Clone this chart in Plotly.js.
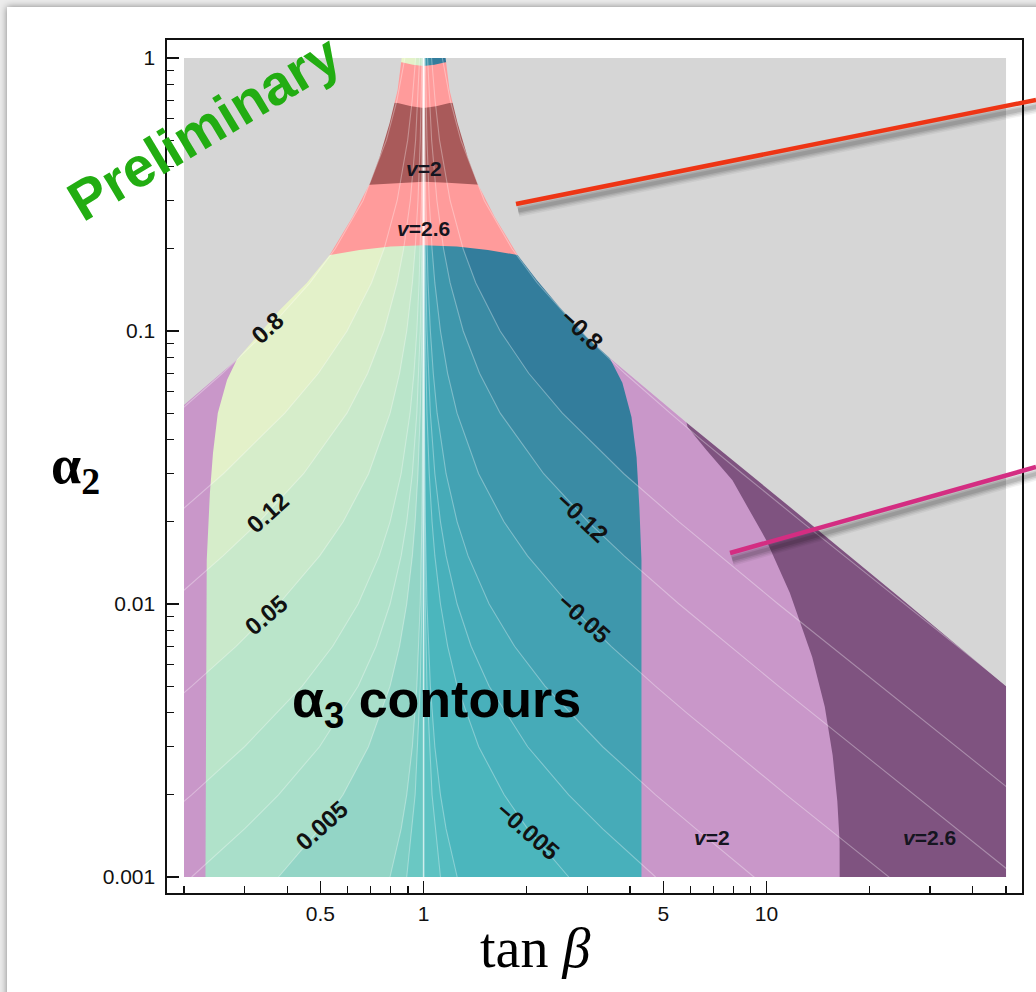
<!DOCTYPE html>
<html>
<head>
<meta charset="utf-8">
<script src="https://cdn.plot.ly/plotly-3.0.1.min.js"></script>
<style>
  html, body { margin: 0; padding: 0; background: #ececec; overflow: hidden; }
  #card { position: absolute; left: 7px; top: 7px; width: 1100px; height: 1100px; background: #fff; box-shadow: 0 0 7px rgba(0,0,0,0.45); }
  #chart { position: absolute; left: 0; top: 0; width: 1036px; height: 992px; }
</style>
</head>
<body>
<div id="card"></div>
<div id="chart"></div>
<script>
// ---- plot window: tan(beta) horizontally, alpha2 vertically (both log) ----
const tanBetaMin = 0.2, tanBetaMax = 50;
const alpha2Min = 0.001, alpha2Max = 1;

// ---- alpha3 contour lines, positive levels (tan beta < 1) ----
const posLevels = [0.0005, 0.001, 0.005, 0.01, 0.02, 0.05, 0.12, 0.25, 0.8];
const p0005A2 = [0.001, 0.002, 0.005, 0.01, 0.05, 1.0];
const p0005Tb = [0.8928, 0.9448, 0.9776, 0.9887, 0.9955, 0.9999];
const p001A2 = [0.001, 0.0015, 0.002, 0.003, 0.005, 0.01, 0.02, 0.05, 0.1, 1.0];
const p001Tb = [0.798, 0.860, 0.8928, 0.9272, 0.9556, 0.9776, 0.9887, 0.9955, 0.9977, 0.9998];
const p005A2 = [0.001, 0.0015, 0.002, 0.003, 0.005, 0.007, 0.01, 0.015, 0.02, 0.03, 0.05, 0.1, 0.2, 1.0];
const p005Tb = [0.3773, 0.497, 0.582, 0.6905, 0.7983, 0.8507, 0.8928, 0.9272, 0.9448, 0.9628, 0.9776, 0.9887, 0.9943, 0.9989];
const p01A2 = [0.001, 0.0015, 0.002, 0.003, 0.005, 0.007, 0.01, 0.015, 0.02, 0.03, 0.05, 0.1, 0.2, 0.5, 1.0];
const p01Tb = [0.2105, 0.3003, 0.3773, 0.497, 0.644, 0.7268, 0.7983, 0.860, 0.8928, 0.9272, 0.9556, 0.9776, 0.9887, 0.9955, 0.9977];
const p02A2 = [0.0015, 0.002, 0.003, 0.005, 0.007, 0.01, 0.015, 0.02, 0.03, 0.05, 0.07, 0.1, 0.15, 0.2, 0.3, 0.5, 1.0];
const p02Tb = [0.1605, 0.2105, 0.3003, 0.4424, 0.543, 0.644, 0.742, 0.7983, 0.860, 0.9132, 0.9372, 0.9556, 0.9702, 0.9776, 0.985, 0.991, 0.9955];
const p05A2 = [0.004, 0.005, 0.007, 0.01, 0.015, 0.02, 0.03, 0.05, 0.07, 0.1, 0.15, 0.2, 0.3, 0.5, 1.0];
const p05Tb = [0.171, 0.2107, 0.2838, 0.378, 0.4976, 0.5826, 0.691, 0.7986, 0.851, 0.893, 0.9273, 0.9449, 0.9629, 0.9776, 0.9887];
const p12A2 = [0.01, 0.015, 0.02, 0.03, 0.05, 0.07, 0.1, 0.15, 0.2, 0.3, 0.5, 0.7, 1.0];
const p12Tb = [0.180, 0.260, 0.331, 0.4465, 0.5976, 0.687, 0.7665, 0.8366, 0.8745, 0.9144, 0.9476, 0.9623, 0.9735];
const p25A2 = [0.02, 0.03, 0.05, 0.07, 0.1, 0.15, 0.2, 0.3, 0.5, 0.7, 1.0];
const p25Tb = [0.180, 0.2605, 0.3937, 0.4935, 0.598, 0.7044, 0.767, 0.837, 0.8985, 0.9263, 0.9478];
const p80A2 = [0.04, 0.05, 0.07, 0.1, 0.15, 0.2, 0.3, 0.5, 0.7, 1.0];
const p80Tb = [0.155, 0.191, 0.259, 0.349, 0.466, 0.552, 0.665, 0.779, 0.836, 0.882];

// ---- alpha3 contour lines, negative levels (tan beta > 1) ----
const negLevels = [-0.0005, -0.001, -0.005, -0.01, -0.02, -0.05, -0.12, -0.25, -0.8];
const n0005A2 = [0.001, 0.002, 0.005, 0.01, 0.05, 1.0];
const n0005Tb = [1.120, 1.0584, 1.0229, 1.0114, 1.0045, 1.0001];
const n001A2 = [0.001, 0.0015, 0.002, 0.003, 0.005, 0.01, 0.02, 0.05, 0.1, 1.0];
const n001Tb = [1.253, 1.163, 1.120, 1.0785, 1.0465, 1.0229, 1.0114, 1.0045, 1.0023, 1.0002];
const n005A2 = [0.001, 0.0015, 0.002, 0.003, 0.005, 0.007, 0.01, 0.015, 0.02, 0.03, 0.05, 0.1, 0.2, 1.0];
const n005Tb = [2.650, 2.012, 1.718, 1.448, 1.2527, 1.1755, 1.120, 1.0785, 1.0584, 1.0386, 1.0229, 1.0114, 1.0057, 1.0011];
const n01A2 = [0.001, 0.0015, 0.002, 0.003, 0.005, 0.007, 0.01, 0.015, 0.02, 0.03, 0.05, 0.1, 0.2, 0.5, 1.0];
const n01Tb = [4.751, 3.330, 2.650, 2.012, 1.553, 1.376, 1.2527, 1.163, 1.120, 1.0785, 1.0465, 1.0229, 1.0114, 1.0045, 1.0023];
const n02A2 = [0.0005, 0.001, 0.0015, 0.002, 0.003, 0.005, 0.007, 0.01, 0.015, 0.02, 0.03, 0.05, 0.07, 0.1, 0.15, 0.2, 0.3, 0.5, 1.0];
const n02Tb = [18.24, 9.20, 6.23, 4.751, 3.330, 2.260, 1.842, 1.553, 1.348, 1.2527, 1.163, 1.095, 1.067, 1.0465, 1.0307, 1.0229, 1.0152, 1.0091, 1.0045];
const n05A2 = [0.0005, 0.001, 0.002, 0.004, 0.005, 0.007, 0.01, 0.015, 0.02, 0.03, 0.05, 0.07, 0.1, 0.15, 0.2, 0.3, 0.5, 1.0];
const n05Tb = [45.38, 22.72, 11.43, 5.841, 4.746, 3.524, 2.646, 2.010, 1.716, 1.447, 1.252, 1.175, 1.120, 1.0784, 1.0583, 1.0385, 1.0229, 1.0114];
const n12A2 = [0.001, 0.002, 0.005, 0.01, 0.015, 0.02, 0.03, 0.05, 0.07, 0.1, 0.15, 0.2, 0.3, 0.5, 0.7, 1.0];
const n12Tb = [53.8, 26.94, 10.85, 5.56, 3.846, 3.021, 2.240, 1.673, 1.456, 1.305, 1.195, 1.1435, 1.0936, 1.0553, 1.0392, 1.0272];
const n25A2 = [0.002, 0.005, 0.01, 0.02, 0.03, 0.05, 0.07, 0.1, 0.15, 0.2, 0.3, 0.5, 0.7, 1.0];
const n25Tb = [53.67, 21.51, 10.82, 5.56, 3.839, 2.540, 2.026, 1.672, 1.420, 1.304, 1.195, 1.113, 1.080, 1.055];
const n80A2 = [0.005, 0.01, 0.02, 0.03, 0.04, 0.05, 0.07, 0.1, 0.15, 0.2, 0.3, 0.5, 0.7, 1.0];
const n80Tb = [50.42, 25.24, 12.68, 8.518, 6.45, 5.24, 3.86, 2.865, 2.146, 1.812, 1.504, 1.284, 1.196, 1.134];

// alpha3 = 0 contour
const zeroLineTb = [1, 1];
const zeroLineA2 = [0.0001, 5];

// band colours: base band next to tan(beta)=1, then the band beyond each level
const posBaseColor = '#6ac8c3';
const posBandColors = ['#7dcec4', '#93d5c6', '#a9dfca', '#b0e2ca', '#bae5ca', '#c9e9cb', '#d6edca', '#e3f1c9', '#e9f4c8'];
const negBaseColor = '#5dc2c2';
const negBandColors = ['#55bdc0', '#4bb6bd', '#48b0bb', '#46abb8', '#43a2b3', '#3e97ac', '#3a8ba4', '#337d9c', '#2f7597'];

// ---- v = 2 / v = 2.6 regions ----
// low tan(beta) strip (v=2), edge against the contour region
const stripEdgeTb = [0.231, 0.231, 0.233, 0.238, 0.243, 0.251, 0.267, 0.285];
const stripEdgeA2 = [0.0001, 0.001, 0.0145, 0.0255, 0.0357, 0.0501, 0.0662, 0.0784];
// high tan(beta): v=2 edge against the contour region
const rightV2EdgeTb = [4.32, 4.32, 4.26, 4.18, 4.04, 3.80, 3.49];
const rightV2EdgeA2 = [0.0001, 0.0145, 0.0226, 0.0345, 0.0484, 0.0646, 0.0796];
// high tan(beta): v=2.6 edge
const rightV26EdgeTb = [16.4, 16.4, 16.35, 16.1, 15.6, 14.8, 13.6, 11.7, 10.0, 7.96, 6.7, 5.89, 5.0];
const rightV26EdgeA2 = [0.0001, 0.001, 0.00135, 0.0019, 0.0028, 0.0042, 0.0064, 0.0110, 0.0171, 0.0284, 0.0365, 0.0445, 0.1];
// upper funnel bands (v=2.6 below and above, v=2 in between)
const funnelLowTb = [0.45, 0.532, 0.65, 0.8, 1.0, 1.25, 1.54, 1.88, 2.25];
const funnelLowA2 = [0.183, 0.190, 0.198, 0.204, 0.206, 0.204, 0.198, 0.190, 0.183];
const funnelTopTb = [2.25, 1.159, 1.075, 1.0, 0.93, 0.863, 0.45];
const funnelTopA2 = [0.965, 0.965, 0.945, 0.935, 0.945, 0.965, 0.965];
const v2BandLowTb = [0.6, 0.697, 0.85, 1.0, 1.176, 1.435, 1.67];
const v2BandLowA2 = [0.340, 0.343, 0.349, 0.352, 0.349, 0.343, 0.340];
const v2BandHighTb = [1.4, 1.19, 1.087, 1.0, 0.92, 0.84, 0.71];
const v2BandHighA2 = [0.69, 0.684, 0.665, 0.656, 0.665, 0.684, 0.69];

// ---- excluded (grey) regions ----
const exclLeftTb = [0.1, 0.2, 0.285, 0.326, 0.380, 0.456, 0.532, 0.621, 0.697, 0.744, 0.796, 0.840, 0.863, 0.875, 0.1];
const exclLeftA2 = [0.0268, 0.0536, 0.0784, 0.0951, 0.119, 0.150, 0.190, 0.262, 0.348, 0.434, 0.578, 0.764, 1.0, 3, 3];
const exclRightTb = [1.147, 1.159, 1.19, 1.256, 1.344, 1.435, 1.61, 1.88, 2.135, 2.49, 2.99, 3.49, 5.89, 12.5, 24.4, 50, 100, 100];
const exclRightA2 = [3, 1.0, 0.764, 0.578, 0.434, 0.348, 0.262, 0.19, 0.154, 0.1225, 0.0951, 0.0796, 0.0458, 0.0212, 0.0106, 0.0050, 0.0025, 3];

// ---- labels ----
const contourLabelText = ['0.8', '0.12', '0.05', '0.005', '\u22120.8', '\u22120.12', '\u22120.05', '\u22120.005'];
const contourLabelTb = [0.351, 0.351, 0.349, 0.504, 2.888, 2.908, 2.947, 2.01];
const contourLabelA2 = [0.1026, 0.0217, 0.00912, 0.00154, 0.1009, 0.0208, 0.00888, 0.00148];
const contourLabelAngle = [-42, -42, -40, -42, 43, 43, 42, 41];
const regionLabelText = ['v=2', 'v=2.6', 'v=2', 'v=2.6'];
const regionLabelTb = [1.0, 1.0, 6.96, 29.9];
const regionLabelA2 = [0.395, 0.238, 0.00139, 0.00139];

const xTickVals = [0.5, 1, 5, 10];
const xTickText = ['0.5', '1', '5', '10'];
const xMinorVals = [0.2, 0.3, 0.4, 0.6, 0.7, 0.8, 0.9, 2, 3, 4, 6, 7, 8, 9, 20, 30, 40, 50];
const yTickVals = [0.001, 0.01, 0.1, 1];
const yTickText = ['0.001', '0.01', '0.1', '1'];
const yMinorVals = [0.002, 0.003, 0.004, 0.005, 0.006, 0.007, 0.008, 0.009,
                    0.02, 0.03, 0.04, 0.05, 0.06, 0.07, 0.08, 0.09,
                    0.2, 0.3, 0.4, 0.5, 0.6, 0.7, 0.8, 0.9];

// ---------------------------------------------------------------
const FAR_L = 0.05, FAR_R = 500, LOW = 0.0001, HIGH = 5;

function area(x, y, color) {
  return { type: 'scatter', mode: 'lines', x: x, y: y, fill: 'toself', fillcolor: color,
           line: { width: 0, color: color }, hoverinfo: 'skip', showlegend: false };
}
function curve(x, y, color, width) {
  return { type: 'scatter', mode: 'lines', x: x, y: y, line: { color: color, width: width },
           hoverinfo: 'skip', showlegend: false };
}
const last = a => a[a.length - 1];

const posLines = [[p0005Tb, p0005A2], [p001Tb, p001A2], [p005Tb, p005A2], [p01Tb, p01A2], [p02Tb, p02A2],
                  [p05Tb, p05A2], [p12Tb, p12A2], [p25Tb, p25A2], [p80Tb, p80A2]];
const negLines = [[n0005Tb, n0005A2], [n001Tb, n001A2], [n005Tb, n005A2], [n01Tb, n01A2], [n02Tb, n02A2],
                  [n05Tb, n05A2], [n12Tb, n12A2], [n25Tb, n25A2], [n80Tb, n80A2]];

const traces = [];
// bands next to tan(beta) = 1
traces.push(area([FAR_L, 1, 1, FAR_L], [LOW, LOW, HIGH, HIGH], posBaseColor));
traces.push(area([1, FAR_R, FAR_R, 1], [LOW, LOW, HIGH, HIGH], negBaseColor));
// nested bands: region beyond each level, painted from the lowest |alpha3| outward
posLines.forEach(([tb, a2], i) => {
  traces.push(area([tb[0], ...tb, last(tb), FAR_L, FAR_L], [LOW, ...a2, HIGH, HIGH, LOW], posBandColors[i]));
});
negLines.forEach(([tb, a2], i) => {
  traces.push(area([tb[0], ...tb, last(tb), FAR_R, FAR_R], [LOW, ...a2, HIGH, HIGH, LOW], negBandColors[i]));
});

// v = 2 / v = 2.6 regions
const V2_LIGHT = '#c997c9', V26_DARK = '#7f5380', PINK = '#ff9b9b', DARKRED = '#a95a5a';
traces.push(area([FAR_L, ...stripEdgeTb, 0.29, FAR_L], [LOW, ...stripEdgeA2, 0.1, 0.1], V2_LIGHT));
traces.push(area([...rightV2EdgeTb, 3.49, FAR_R, FAR_R], [...rightV2EdgeA2, 0.3, 0.3, LOW], V2_LIGHT));
traces.push(area([...rightV26EdgeTb, FAR_R, FAR_R], [...rightV26EdgeA2, 0.1, LOW], V26_DARK));
traces.push(area([...funnelLowTb, ...funnelTopTb], [...funnelLowA2, ...funnelTopA2], PINK));
traces.push(area([...v2BandLowTb, ...v2BandHighTb], [...v2BandLowA2, ...v2BandHighA2], DARKRED));

// contour lines
posLines.concat(negLines).forEach(([tb, a2]) => traces.push(curve(tb, a2, 'rgba(255,255,255,0.33)', 1.1)));
traces.push(curve(zeroLineTb, zeroLineA2, 'rgba(255,255,255,0.6)', 1.6));

// excluded regions
const GREY = '#d6d6d6';
traces.push(area(exclLeftTb, exclLeftA2, GREY));
traces.push(area(exclRightTb, exclRightA2, GREY));

// white margin between the frame and the plotted window
const W = '#ffffff';
traces.push(area([FAR_L, FAR_R, FAR_R, FAR_L], [alpha2Max, alpha2Max, 100, 100], W));
traces.push(area([FAR_L, FAR_R, FAR_R, FAR_L], [1e-5, 1e-5, alpha2Min, alpha2Min], W));
traces.push(area([FAR_L, tanBetaMin, tanBetaMin, FAR_L], [1e-5, 1e-5, 100, 100], W));
traces.push(area([tanBetaMax, FAR_R, FAR_R, tanBetaMax], [1e-5, 1e-5, 100, 100], W));

// ---------------------------------------------------------------
const annotations = [];
contourLabelText.forEach((t, i) => annotations.push({
  x: Math.log10(contourLabelTb[i]), y: Math.log10(contourLabelA2[i]), xref: 'x', yref: 'y',
  xanchor: 'center', yanchor: 'middle',
  text: '<b>' + t + '</b>', showarrow: false, textangle: contourLabelAngle[i],
  font: { family: 'Liberation Sans, Arial, sans-serif', size: 24, color: '#111' }
}));
regionLabelText.forEach((t, i) => annotations.push({
  x: Math.log10(regionLabelTb[i]), y: Math.log10(regionLabelA2[i]), xref: 'x', yref: 'y',
  xanchor: 'center', yanchor: 'middle',
  text: '<b><i>v</i>' + t.slice(1) + '</b>', showarrow: false,
  font: { family: 'Liberation Sans, Arial, sans-serif', size: 21, color: '#151520' }
}));
annotations.push({
  x: Math.log10(1.091), y: Math.log10(0.00433), xref: 'x', yref: 'y', showarrow: false,
  xanchor: 'center', yanchor: 'middle',
  text: '<b>\u03b1<sub>3</sub> contours</b>',
  font: { family: 'Liberation Sans, Arial, sans-serif', size: 52, color: '#000' }
});
annotations.push({
  x: 0.0430, y: 0.8980, xref: 'paper', yref: 'paper', showarrow: false, textangle: -31,
  xanchor: 'center', yanchor: 'middle',
  text: '<b>Preliminary</b>',
  font: { family: 'Liberation Sans, Arial, sans-serif', size: 56, color: '#22ad12' }
});
annotations.push({
  x: 0.4304, y: -0.0645, xref: 'paper', yref: 'paper', showarrow: false,
  xanchor: 'center', yanchor: 'middle',
  text: 'tan <i>\u03b2</i>',
  font: { family: 'Liberation Serif, Times New Roman, serif', size: 56, color: '#000' }
});
annotations.push({
  x: -0.1076, y: 0.4982, xref: 'paper', yref: 'paper', showarrow: false,
  xanchor: 'center', yanchor: 'middle',
  text: '<b>\u03b1<sub>2</sub></b>',
  font: { family: 'Liberation Serif, Times New Roman, serif', size: 54, color: '#000' }
});

// pointer strokes running off to the right, each with a soft drop shadow
const shapes = [];
function pointer(x0, y0, x1, y1, color) {
  const dx = 0.0025, dy = -0.0075;
  [[13, 0.05], [10, 0.07], [7, 0.09], [4, 0.10]].forEach(([w, a]) => shapes.push({
    type: 'line', xref: 'paper', yref: 'paper', x0: x0 + dx, y0: y0 + dy, x1: x1 + dx, y1: y1 + dy,
    line: { color: 'rgba(0,0,0,' + a + ')', width: w }
  }));
  shapes.push({ type: 'line', xref: 'paper', yref: 'paper', x0: x0, y0: y0, x1: x1, y1: y1,
                line: { color: color, width: 4.5 } });
}
pointer(0.4082, 0.8077, 1.0164, 0.9297, '#ee3515');
pointer(0.6585, 0.3986, 1.0164, 0.4994, '#d42d82');

const axisCommon = {
  type: 'log', showline: true, linecolor: '#111', linewidth: 1.6, mirror: true,
  ticks: 'inside', ticklen: 12, tickwidth: 1.4, tickcolor: '#111',
  showgrid: false, zeroline: false, tickmode: 'array',
  tickfont: { family: 'Liberation Sans, Arial, sans-serif', size: 21, color: '#111' }
};

const layout = {
  width: 1036, height: 992,
  margin: { l: 167, r: 14, t: 40, b: 99 },
  paper_bgcolor: 'rgba(0,0,0,0)', plot_bgcolor: '#ffffff',
  showlegend: false, hovermode: false,
  xaxis: Object.assign({}, axisCommon, {
    range: [Math.log10(tanBetaMin) - 0.0496, Math.log10(tanBetaMax) + 0.0466],
    tickvals: xTickVals, ticktext: xTickText, ticklabelstandoff: 1,
    minor: { tickmode: 'array', tickvals: xMinorVals, ticks: 'inside', ticklen: 7, tickwidth: 1.2, tickcolor: '#111', showgrid: false }
  }),
  yaxis: Object.assign({}, axisCommon, {
    range: [Math.log10(alpha2Min) - 0.0586, Math.log10(alpha2Max) + 0.0659],
    tickvals: yTickVals, ticktext: yTickText, ticklabelstandoff: 6,
    minor: { tickmode: 'array', tickvals: yMinorVals, ticks: 'inside', ticklen: 7, tickwidth: 1.2, tickcolor: '#111', showgrid: false }
  }),
  annotations: annotations,
  shapes: shapes
};

Plotly.newPlot('chart', traces, layout, { staticPlot: true, displayModeBar: false });
</script>
</body>
</html>
